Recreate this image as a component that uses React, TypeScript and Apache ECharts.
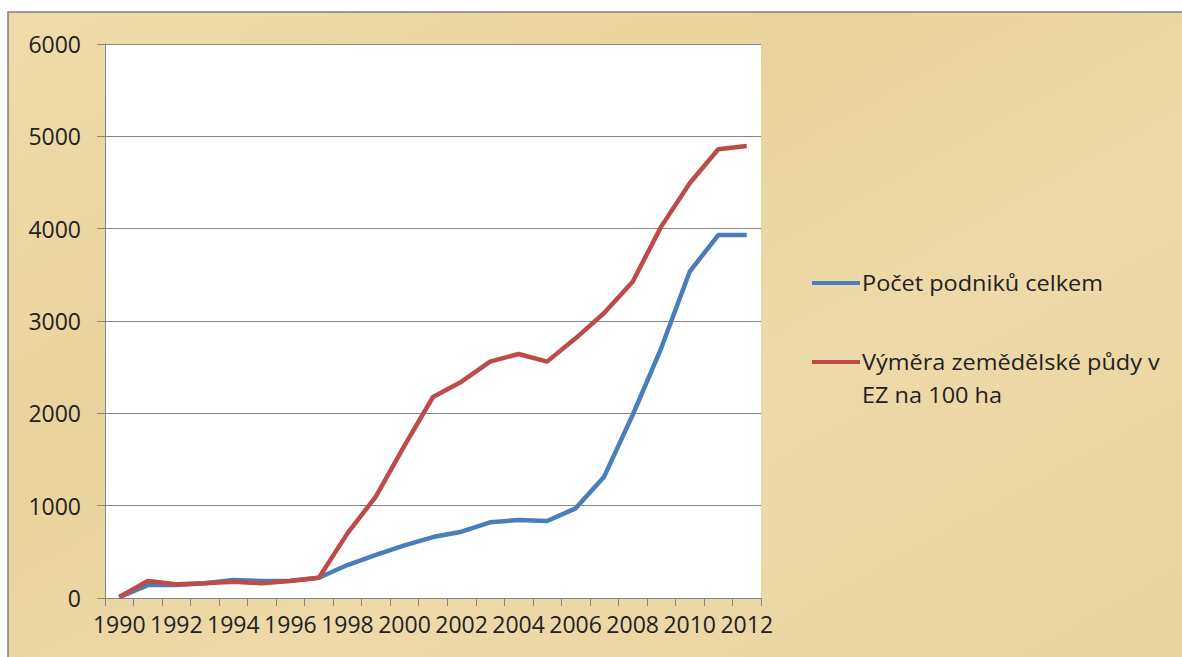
import React, { useEffect, useRef } from "react";
import * as echarts from "echarts";

const years: string[] = [
  "1990", "1991", "1992", "1993", "1994", "1995", "1996", "1997", "1998", "1999", "2000",
  "2001", "2002", "2003", "2004", "2005", "2006", "2007", "2008", "2009", "2010", "2011", "2012",
];

const seriesNames: string[] = ["Počet podniků celkem", "Výměra zemědělské půdy v EZ na 100 ha"];

const podniky: number[] = [
  10, 140, 140, 160, 195, 184, 188, 220, 357, 466, 570, 660, 718, 820, 845, 834, 971, 1314, 1982,
  2704, 3534, 3931, 3931,
];

const vymera: number[] = [
  10, 184, 150, 160, 177, 159, 184, 220, 700, 1100, 1650, 2177, 2343, 2560, 2643, 2560, 2812,
  3087, 3426, 4022, 4492, 4860, 4895,
];

const yTicks: number[] = [0, 1000, 2000, 3000, 4000, 5000, 6000];

const BLUE = "#4a7ebb";
const RED = "#be4b48";
const FONT = "'Open Sans', Lato, sans-serif";
const TEXT = "#222222";

export default function App() {
  const ref = useRef<HTMLDivElement>(null);

  useEffect(() => {
    if (!ref.current) return;
    const chart = echarts.init(ref.current, undefined, { renderer: "svg" });
    const legendText = (text: string, y: number) => ({
      type: "text",
      x: 862,
      y,
      scaleX: 1.12,
      style: {
        text,
        fontFamily: FONT,
        fontSize: 21,
        fill: TEXT,
        verticalAlign: "middle",
      },
    });
    chart.setOption({
      animation: false,
      backgroundColor: "#ffffff",
      textStyle: { fontFamily: FONT },
      graphic: [
        {
          type: "rect",
          z: -10,
          silent: true,
          shape: { x: 8, y: 12, width: 1190, height: 660 },
          style: {
            fill: new echarts.graphic.LinearGradient(0, 0, 1, 1, [
              { offset: 0, color: "#efdcaa" },
              { offset: 0.35, color: "#e9d39c" },
              { offset: 0.6, color: "#eddaa8" },
              { offset: 1, color: "#e8d4a0" },
            ]),
            stroke: "#7f7f7f",
            lineWidth: 1.5,
          },
        },
        {
          type: "line",
          shape: { x1: 812, y1: 283, x2: 860, y2: 283 },
          style: { stroke: BLUE, lineWidth: 4 },
        },
        legendText(seriesNames[0], 283),
        {
          type: "line",
          shape: { x1: 812, y1: 362, x2: 860, y2: 362 },
          style: { stroke: RED, lineWidth: 4 },
        },
        legendText("Výměra zemědělské půdy v", 362),
        legendText("EZ na 100 ha", 395),
      ],
      grid: {
        left: 105,
        top: 44,
        right: 421,
        bottom: 59,
        show: true,
        backgroundColor: "#ffffff",
        borderWidth: 0,
      },
      xAxis: {
        type: "category",
        data: years,
        boundaryGap: true,
        axisLine: { show: true, lineStyle: { color: "#868686", width: 1 } },
        axisTick: { show: true, length: 8, interval: 0, lineStyle: { color: "#868686" } },
        axisLabel: {
          interval: 1,
          margin: 14,
          fontSize: 23,
          fontFamily: FONT,
          color: TEXT,
        },
        splitLine: { show: false },
      },
      yAxis: {
        type: "value",
        min: yTicks[0],
        max: yTicks[yTicks.length - 1],
        interval: 1000,
        axisLine: { show: true, lineStyle: { color: "#868686", width: 1 } },
        axisTick: { show: true, length: 8, lineStyle: { color: "#868686" } },
        axisLabel: {
          margin: 24,
          fontSize: 23,
          fontFamily: FONT,
          color: TEXT,
          formatter: (v: number) => String(v),
        },
        splitLine: { show: true, lineStyle: { color: "#868686", width: 1 } },
      },
      series: [
        {
          name: seriesNames[0],
          type: "line",
          data: podniky,
          showSymbol: false,
          symbol: "none",
          lineStyle: { color: BLUE, width: 4.5 },
          itemStyle: { color: BLUE },
          z: 2,
        },
        {
          name: seriesNames[1],
          type: "line",
          data: vymera,
          showSymbol: false,
          symbol: "none",
          lineStyle: { color: RED, width: 4.5 },
          itemStyle: { color: RED },
          z: 3,
        },
      ],
    });
    return () => chart.dispose();
  }, []);

  return (
    <div
      ref={ref}
      style={{ position: "absolute", left: 0, top: 0, width: 1182, height: 657 }}
    />
  );
}
